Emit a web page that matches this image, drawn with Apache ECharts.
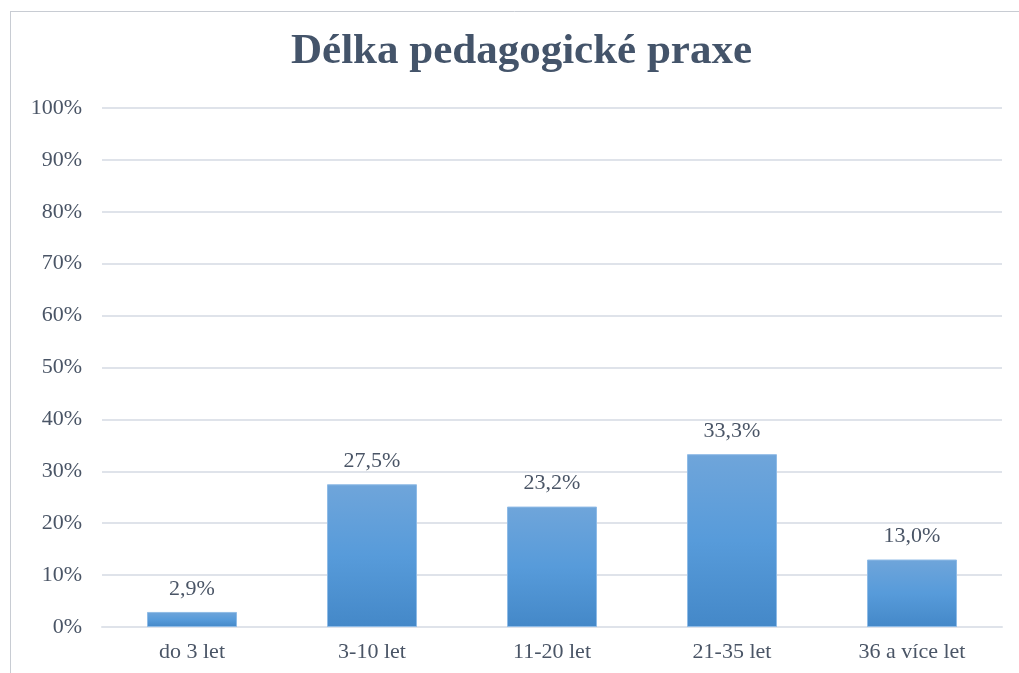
<!DOCTYPE html>
<html>
<head>
<meta charset="utf-8">
<script src="https://cdn.jsdelivr.net/npm/echarts@6/dist/echarts.min.js"></script>
<style>
  html, body { margin: 0; padding: 0; background: #fff; }
  #chart { width: 1019px; height: 673px; }
</style>
</head>
<body>
<div id="chart"></div>
<script>
// data
var categories = ['do 3 let', '3-10 let', '11-20 let', '21-35 let', '36 a více let']
var shares = [2.9, 27.5, 23.2, 33.3, 13.0]
var titleText = 'Délka pedagogické praxe'

var myChart = echarts.init(document.getElementById('chart'))
var serif = '"Liberation Serif", "DejaVu Serif", serif'
var textColor = '#4a5566'

var option = {
    backgroundColor: '#fff',
    title: {
        text: titleText,
        left: 286,
        top: 25,
        textStyle: {
            fontFamily: serif,
            fontSize: 43,
            fontWeight: 'bold',
            color: '#44546a'
        }
    },
    graphic: [
        // thin frame round the chart (top and left edges visible)
        { type: 'line', shape: { x1: 10, y1: 11.5, x2: 1019, y2: 11.5 }, style: { stroke: '#c8ccd3', lineWidth: 1 } },
        { type: 'line', shape: { x1: 10.5, y1: 11, x2: 10.5, y2: 673 }, style: { stroke: '#c8ccd3', lineWidth: 1 } }
    ],
    grid: {
        left: 102,
        right: 17,
        top: 108,
        bottom: 46
    },
    xAxis: {
        type: 'category',
        data: categories,
        axisLine: { show: true, lineStyle: { color: '#dfe3ea', width: 2 } },
        axisTick: { show: false },
        axisLabel: {
            margin: 14,
            fontFamily: serif,
            fontSize: 22,
            color: textColor
        }
    },
    yAxis: {
        type: 'value',
        min: 0,
        max: 100,
        interval: 10,
        axisLine: { show: false },
        axisTick: { show: false },
        splitLine: { lineStyle: { color: '#dfe3ea', width: 2 } },
        axisLabel: {
            margin: 20,
            fontFamily: serif,
            fontSize: 22,
            color: textColor,
            formatter: function (v) { return v + '%' }
        }
    },
    series: [{
        type: 'bar',
        data: shares,
        barWidth: '50%',
        itemStyle: {
            color: new echarts.graphic.LinearGradient(0, 0, 0, 1, [{
                offset: 0,
                color: '#6fa5da'
            }, {
                offset: 0.5,
                color: '#579bda'
            }, {
                offset: 1,
                color: '#4488c8'
            }]),
            borderColor: '#8fbbe6',
            borderWidth: 1
        },
        label: {
            show: true,
            position: 'top',
            distance: 12,
            fontFamily: serif,
            fontSize: 22,
            color: textColor,
            formatter: function (p) { return p.value.toFixed(1).replace('.', ',') + '%' }
        }
    }]
}
myChart.setOption(option)
</script>
</body>
</html>
